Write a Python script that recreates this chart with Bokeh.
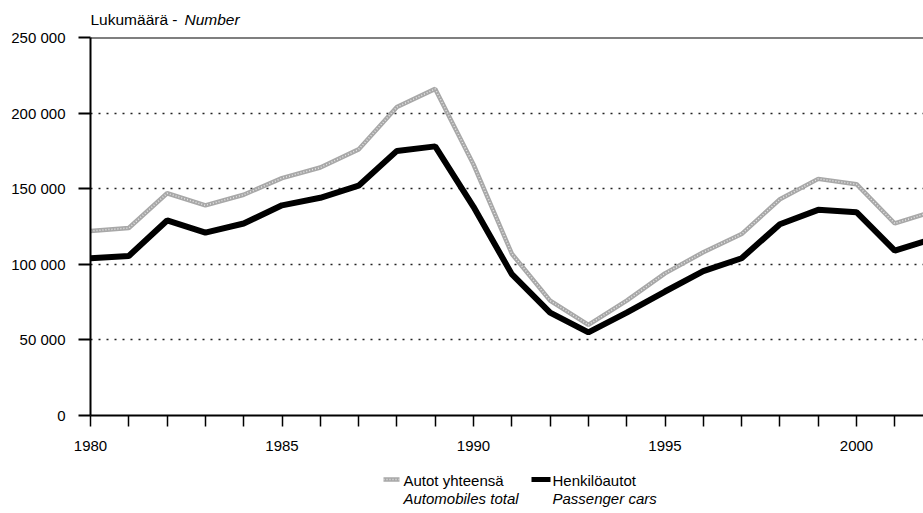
from bokeh.plotting import figure
from bokeh.models import Range1d, FixedTicker, Span
from bokeh.layouts import column
from bokeh.embed import file_html
from bokeh.resources import INLINE
from bokeh.core.properties import value

# ---- data ----
years = list(range(1980, 2003))
total = [122000, 124000, 147000, 139000, 146000, 157000, 164000, 176000, 204000,
         216000, 166000, 107000, 76000, 60000, 76000, 94000, 108000, 120000,
         143000, 156500, 153000, 127000, 135000]
cars = [104000, 105500, 129000, 121000, 127000, 139000, 144000, 152000, 175000,
        178000, 138000, 93500, 68000, 55000, 68000, 82000, 95500, 104000,
        126500, 136000, 134500, 109000, 117000]
x_ticks = list(range(1980, 2002))
x_tick_labels = {y: (str(y) if y % 5 == 0 else "") for y in x_ticks}
y_ticks = [0, 50000, 100000, 150000, 200000, 250000]
y_tick_labels = {0: "0", 50000: "50 000", 100000: "100 000", 150000: "150 000",
                 200000: "200 000", 250000: "250 000"}
axis_title = ["Lukumäärä - ", "Number"]
legend_fi = ["Autot yhteensä", "Henkilöautot"]
legend_en = ["Automobiles total", "Passenger cars"]

FONT = "Liberation Sans"
FS = "15px"
W = 923
PX_PER_YEAR = 38.3
LEFT = 90

GRAY = "#a8a8a8"
GRAY_IN = "#e6e6e6"

# ---- title strip (frame is aligned with the main chart frame) ----
t = figure(width=W, height=28, output_backend="svg", toolbar_location=None,
           title=None, x_range=Range1d(LEFT, W), y_range=Range1d(28, 0),
           min_border=0)
t.outline_line_color = None
t.axis.visible = False
t.grid.visible = False
t.text(x=[LEFT], y=[19], text=[axis_title[0]], text_font=value(FONT),
       text_font_size="15.5px", text_color="black", text_baseline="alphabetic")
t.text(x=[LEFT + 94], y=[19], text=[axis_title[1]], text_font=value(FONT),
       text_font_size="15.5px", text_font_style="italic", text_color="black",
       text_baseline="alphabetic")

# ---- main chart ----
p = figure(width=W, height=437, output_backend="svg", toolbar_location=None,
           title=None,
           x_range=Range1d(1980, 1980 + (W - LEFT) / PX_PER_YEAR),
           y_range=Range1d(0, 250000),
           min_border_left=LEFT, min_border_right=0, min_border_top=9,
           min_border_bottom=50)
p.outline_line_color = None
p.xgrid.visible = False

p.ygrid.ticker = FixedTicker(ticks=y_ticks[1:-1])
p.ygrid.grid_line_color = "#222222"
p.ygrid.grid_line_width = 1.5
p.ygrid.grid_line_dash = "2 6"

for ax in (p.xaxis[0], p.yaxis[0]):
    ax.axis_line_width = 2
    ax.axis_line_color = "black"
    ax.major_tick_in = 0
    ax.minor_tick_out = 0
    ax.minor_tick_in = 0
    ax.major_tick_line_color = "black"
    ax.major_label_text_font = FONT
    ax.major_label_text_font_size = FS
    ax.major_label_text_color = "black"

p.xaxis.ticker = FixedTicker(ticks=x_ticks)
p.xaxis.major_label_overrides = x_tick_labels
p.xaxis.major_tick_out = 11
p.xaxis.major_tick_line_width = 1.5
p.xaxis.major_label_standoff = 14

p.yaxis.ticker = FixedTicker(ticks=y_ticks)
p.yaxis.major_label_overrides = y_tick_labels
p.yaxis.major_tick_out = 12
p.yaxis.major_tick_line_width = 2
p.yaxis.major_label_standoff = 13

p.add_layout(Span(location=y_ticks[-1], dimension="width", line_color="black",
                  line_width=2))

p.line(years, total, line_color=GRAY, line_width=4.5)
p.line(years, total, line_color=GRAY_IN, line_width=1.5, line_dash="1 2")
p.line(years, cars, line_color="black", line_width=6)

# ---- legend strip (frame is aligned with the main chart frame) ----
q = figure(width=W, height=48, output_backend="svg", toolbar_location=None,
           title=None, x_range=Range1d(LEFT, W), y_range=Range1d(48, 0),
           min_border=0)
q.outline_line_color = None
q.axis.visible = False
q.grid.visible = False

q.line([383, 399], [14, 14], line_color=GRAY, line_width=4.5)
q.line([383, 399], [14, 14], line_color=GRAY_IN, line_width=1.5, line_dash="1 2")
q.line([531, 550], [14, 14], line_color="black", line_width=5)
q.text(x=[403, 552], y=[15, 15], text=legend_fi, text_font=value(FONT),
       text_font_size=FS, text_color="black", text_baseline="alphabetic")
q.text(x=[403, 552], y=[33, 33], text=legend_en, text_font=value(FONT),
       text_font_size=FS, text_font_style="italic", text_color="black",
       text_baseline="alphabetic")

layout = column(t, p, q, spacing=0)
open("out.html", "w").write(file_html(layout, INLINE))
